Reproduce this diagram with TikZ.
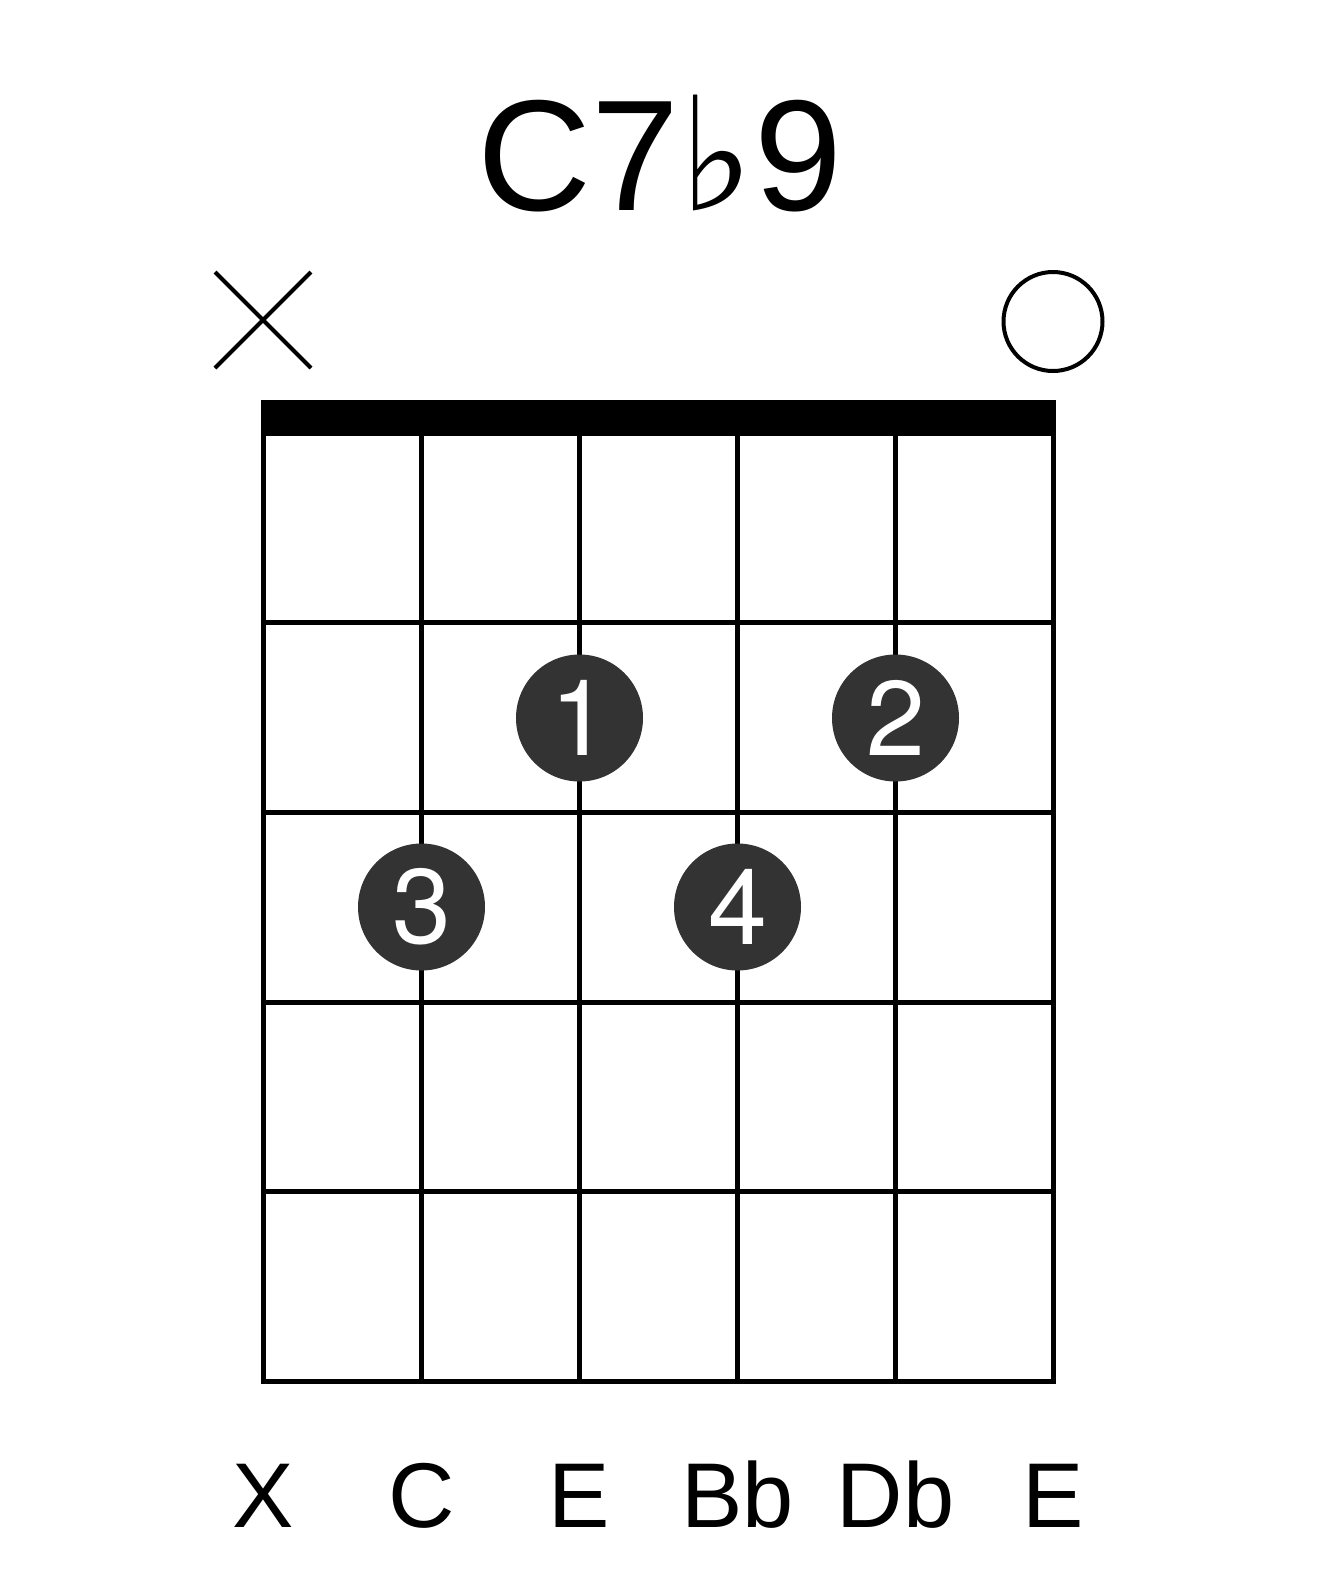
\documentclass[tikz,border=0pt]{standalone}
\usepackage{fontspec}
\setmainfont{Liberation Sans}
\newfontfamily\flatfont{DejaVu Sans}
\newfontfamily\fingerfont{TeX Gyre Heros}
\usetikzlibrary{calc}
\definecolor{dotgray}{HTML}{333333}
\tikzset{
  fretline/.style={line width=2.5pt},
  marker/.style={line width=2pt},
  finger/.style={circle, fill=dotgray, text=white, inner sep=0pt, minimum size=63.5pt, font=\fingerfont\fontsize{53}{53}\selectfont},
  notename/.style={anchor=base, inner sep=0pt, font=\fontsize{46}{46}\selectfont},
}

\begin{document}
\begin{tikzpicture}[x=0.5pt, y=-0.5pt]
  \useasboundingbox (0,0) rectangle (1317,1581);

  % chord name
  \node[anchor=base, inner sep=0pt, font=\fontsize{79}{79}\selectfont] (title) at (660,210) {C7{\flatfont ♭}9};

  % string ends
  \foreach \s [count=\i] in {263.5,421.5,579.5,737.5,895.5,1053.5} {
    \coordinate (t\i) at (\s,433);
    \coordinate (b\i) at (\s,1381.5);
  }

  % nut
  \fill ([xshift=-1.25pt]t1) rectangle ([xshift=1.25pt, yshift=16.5pt]t6);

  % strings and frets
  \draw[fretline] (t1) rectangle (b6);
  \foreach \i in {2,...,5}
    \draw[fretline] (t\i) -- (b\i);
  \foreach \j in {1,...,4}
    \draw[fretline] ($(t1)!\j/5!(b1)$) -- ($(t6)!\j/5!(b6)$);

  % muted and open strings
  \coordinate (mute) at (263,320);
  \draw[marker] ($(mute)+(-48,-48)$) -- ($(mute)+(48,48)$);
  \draw[marker] ($(mute)+(-48,48)$) -- ($(mute)+(48,-48)$);
  \node[draw, circle, marker, minimum size=49.5pt, inner sep=0pt] (open) at (1053,321.5) {};

  % fingers
  \node[finger] (f1) at (579.5,718) {1};
  \node[finger] (f2) at (895.5,718) {2};
  \node[finger] (f3) at (421.5,907) {3};
  \node[finger] (f4) at (737.5,907) {4};

  % note names
  \foreach \n [count=\i] in {X,C,E,Bb,Db,E}
    \node[notename] (n\i) at ($(b\i)+(0,145.5)$) {\n};
\end{tikzpicture}
\end{document}
